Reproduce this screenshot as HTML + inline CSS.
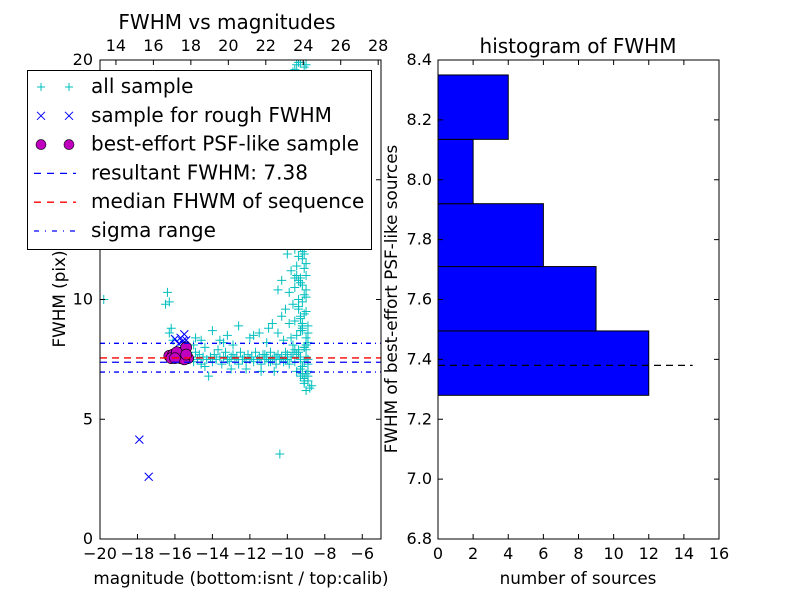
<!DOCTYPE html>
<html><head><meta charset="utf-8"><style>
body{margin:0;background:#fff}
svg{display:block;font-family:"DejaVu Sans","Liberation Sans",sans-serif}
</style></head><body>
<svg id="fig" width="800" height="600" viewBox="0 0 800 600">
<rect width="800" height="600" fill="#fff"/>
<g id="left"></g>
<g id="right"></g>
</svg>
<script>
// ---- Left chart data ----
const allMag = [-15.1,-15.0,-14.9,-14.8,-14.7,-14.6,-14.5,-14.4,-14.3,-14.2,-14.1,-14.0,-13.9,-13.8,-13.7,-13.6,-13.5,-13.4,-13.3,-13.2,-13.1,-13.0,-12.9,-12.8,-12.7,-12.6,-12.5,-12.4,-12.3,-12.2,-12.1,-12.0,-11.9,-11.8,-11.7,-11.6,-11.5,-11.4,-11.3,-11.2,-11.1,-11.0,-10.9,-10.8,-10.7,-10.6,-10.5,-10.4,-10.3,-10.2,-10.1,-10.0,
-14.6,-14.0,-13.4,-12.9,-12.0,-11.5,-11.1,-10.8,-10.5,-10.3,-11.0,-13.2,-14.9,-15.0,-13.0,-12.2,-11.4,-10.7,-14.4,
-9.5,-9.3,-9.1,-9.6,-9.4,-9.0,-9.7,-9.3,-9.5,-9.2,-9.6,-9.1,-9.4,-9.7,-9.0,-9.3,-9.5,-9.8,-9.1,-9.4,-9.6,-10.0,-9.2,-9.5,-9.8,-9.0,-10.3,-9.3,-9.6,-9.9,-10.5,-9.1,-9.4,-9.7,-10.1,-9.0,-9.3,-9.6,-9.9,-8.9,-9.2,-9.5,-9.8,-10.2,-8.9,-9.1,-9.4,-9.7,-9.0,-9.3,-8.9,-9.2,-9.5,-9.0,-9.3,-8.9,-9.1,-8.8,-9.0,-8.7,-9.2,-9.3,-9.1,-9.5,-9.0,-9.4,-8.9,-9.6,-9.2,-9.0,
-9.2,-9.0,-9.4,-9.1,-9.3,-9.2,-9.0,-9.4,-9.1,-9.3,-9.2,-9.0,-9.5,-9.1,-9.3,-9.2,-8.9,-9.4,-9.1,-9.0,-9.3,-9.2,-9.5,-9.0,-9.1,-9.4,-9.2,-9.3,-8.9,-9.1,-9.6,-9.0,-9.2,-9.4,-9.1,-9.3,-9.0,-9.2,-8.9,-9.1,-9.8,-10.0,-10.4,-10.6,-10.9,-11.2,-9.7,-9.9,-10.1,-9.6,
-19.8,-16.4,-16.5,-16.3,-16.2,-16.3,-10.4,-16.1,-12.6,-13.6,-11.8];
const allFwhm = [7.6,7.4,7.8,7.5,7.7,7.3,7.6,8.0,7.5,6.8,7.6,7.4,7.7,7.5,7.9,7.6,7.3,7.6,7.8,7.5,7.4,7.6,7.7,7.5,7.6,7.3,7.8,7.5,7.6,7.4,7.7,7.5,7.6,7.4,7.8,7.5,7.6,7.3,7.7,7.5,7.6,7.4,7.8,7.5,7.6,7.3,7.7,7.5,7.6,7.4,7.8,7.5,
8.3,8.7,8.2,8.1,8.4,8.6,8.2,9.0,8.6,9.3,8.8,8.5,8.4,8.1,7.1,7.1,7.0,7.0,7.2,
19.8,19.9,19.7,19.6,19.9,19.8,19.5,18.5,17.8,17.2,16.5,16.0,15.4,14.9,14.5,14.0,13.6,13.2,12.8,12.5,12.1,11.9,11.7,11.4,11.2,11.0,10.8,10.7,10.5,10.3,10.4,10.2,10.0,9.8,9.6,9.5,9.3,9.1,9.0,8.9,8.7,8.5,8.4,8.3,8.2,8.0,7.9,7.8,7.6,7.5,7.3,7.2,7.0,6.9,6.8,6.6,6.5,6.3,6.2,6.4,12.0,13.0,14.2,15.0,11.5,9.6,8.6,10.9,9.0,10.4,
12.3,12.6,11.8,11.3,10.9,10.6,10.1,9.7,9.4,9.2,8.8,8.1,7.7,7.4,7.1,6.9,7.5,7.8,8.0,8.4,8.7,9.9,11.0,12.9,13.4,13.8,7.2,7.6,6.8,6.7,7.4,7.9,8.9,10.8,11.9,12.2,13.1,14.3,7.0,6.6,7.6,7.7,7.5,7.6,7.4,7.7,8.1,7.3,7.5,7.9,
10.0,10.3,9.8,9.9,8.8,8.6,3.55,8.3,8.9,8.3,8.5];
const roughMag = [-17.9,-17.4,-16.0,-15.7,-15.5,-15.6,-15.4,-15.8,-15.5];
const roughFwhm = [4.15,2.6,8.35,8.4,8.55,8.25,8.3,8.15,8.1];
const bestMag = [-16.3,-16.1,-15.9,-15.8,-15.6,-15.5,-15.4,-15.3,-15.7,-16.2,-15.5,-15.9,-16.0,-15.4];
const bestFwhm = [7.65,7.7,7.6,7.75,7.8,7.65,8.0,7.55,7.55,7.55,7.5,7.8,7.55,7.7];
const resultFwhm = 7.38;
const medianFwhm = 7.56;
const sigmaRange = [6.97, 8.17];
const xTicks = [-20,-18,-16,-14,-12,-10,-8,-6];
const yTicks = [0,5,10,15,20];
const topTicks = [14,16,18,20,22,24,26,28];
const calibOffset = 33.15;
// ---- Right chart data ----
const binEdges = [7.28,7.495,7.71,7.92,8.135,8.35];
const binCounts = [12,9,6,2,4];
const histXTicks = [0,2,4,6,8,10,12,14,16];
const histYTicks = [6.8,7.0,7.2,7.4,7.6,7.8,8.0,8.2,8.4];

const NS='http://www.w3.org/2000/svg';
function mk(parent,tag,attrs,text){const e=document.createElementNS(NS,tag);for(const k in attrs)e.setAttribute(k,attrs[k]);if(text!==undefined)e.textContent=text;parent.appendChild(e);return e;}

// ---- Left plot ----
const L=document.getElementById('left');
const lx0=100,lx1=381,ly0=60,ly1=539;
const X=v=>lx0+(v+20)/15*(lx1-lx0);
const Y=v=>ly1-v/20*(ly1-ly0);
const clipL=mk(L,'clipPath',{id:'clipL'});mk(clipL,'rect',{x:lx0,y:ly0,width:lx1-lx0,height:ly1-ly0});
const pts=mk(L,'g',{'clip-path':'url(#clipL)'});
for(let i=0;i<allMag.length;i++){
  const x=X(allMag[i]),y=Y(allFwhm[i]);
  const p=mk(pts,'path',{d:`M${x-4.5},${y}H${x+4.5}M${x},${y-4.5}V${y+4.5}`,stroke:'#00bfbf','stroke-width':1,fill:'none'});
  
  
}
for(let i=0;i<roughMag.length;i++){
  const x=X(roughMag[i]),y=Y(roughFwhm[i]);
  const p=mk(pts,'path',{d:`M${x-4},${y-4}L${x+4},${y+4}M${x-4},${y+4}L${x+4},${y-4}`,stroke:'#0000ff','stroke-width':1,fill:'none'});
  
  
}
for(let i=0;i<bestMag.length;i++){
  const c=mk(pts,'circle',{cx:X(bestMag[i]),cy:Y(bestFwhm[i]),r:5.5,fill:'#bf00bf',stroke:'#000','stroke-width':0.6});
  
  
}
function hline(g,v,color,dash,name){const l=mk(g,'line',{x1:lx0,x2:lx1,y1:Y(v),y2:Y(v),stroke:color,'stroke-width':1.3,'stroke-dasharray':dash});}
hline(pts,resultFwhm,'#0000ff','7,5','resultant-fwhm-line');
hline(pts,medianFwhm,'#ff0000','7,5','median-fwhm-line');
hline(pts,sigmaRange[0],'#0000ff','5,4,1,4','sigma-low-line');
hline(pts,sigmaRange[1],'#0000ff','5,4,1,4','sigma-high-line');
mk(L,'rect',{x:lx0,y:ly0,width:lx1-lx0,height:ly1-ly0,fill:'none',stroke:'#000','stroke-width':1});
xTicks.forEach(t=>{const x=X(t);mk(L,'path',{d:`M${x},${ly1}v-5`,stroke:'#000'});
 const tx=mk(L,'text',{x:x,y:559,'font-size':16,'text-anchor':'middle'},(t<0?'\u2212'+(-t):t));});
yTicks.forEach(t=>{const y=Y(t);mk(L,'path',{d:`M${lx0},${y}h5M${lx1},${y}h-5`,stroke:'#000'});
 const tx=mk(L,'text',{x:93,y:y+5,'font-size':16,'text-anchor':'end'},t);});
topTicks.forEach(t=>{const x=X(t-calibOffset);mk(L,'path',{d:`M${x},${ly0}v5`,stroke:'#000'});
 const tx=mk(L,'text',{x:x,y:51,'font-size':16,'text-anchor':'middle'},t);});
</script>
<script>
(function(){
const L=document.getElementById('left');
const NS='http://www.w3.org/2000/svg';
function mk(p,t,a,x){const e=document.createElementNS(NS,t);for(const k in a)e.setAttribute(k,a[k]);if(x!==undefined)e.textContent=x;p.appendChild(e);return e;}
let e;
e=mk(L,'text',{x:227,y:29,'font-size':20,'text-anchor':'middle'},'FWHM vs magnitudes');
e=mk(L,'text',{x:241,y:584,'font-size':16.8,'text-anchor':'middle'},'magnitude (bottom:isnt / top:calib)');
e=mk(L,'text',{x:0,y:0,'font-size':16.8,'text-anchor':'middle',transform:'translate(65,299) rotate(-90)'},'FWHM (pix)');
const lg=mk(L,'g',{});
mk(lg,'rect',{x:27.5,y:70.5,width:344,height:179,fill:'#fff',stroke:'#000'});
const labels=['all sample','sample for rough FWHM','best-effort PSF-like sample','resultant FWHM: 7.38','median FHWM of sequence','sigma range'];
labels.forEach((s,i)=>{const y=87+i*28.8;
 if(i==0)[41,69].forEach(x=>mk(lg,'path',{d:`M${x-4},${y}H${x+4}M${x},${y-4}V${y+4}`,stroke:'#00bfbf'}));
 if(i==1)[41,69].forEach(x=>mk(lg,'path',{d:`M${x-4},${y-4}L${x+4},${y+4}M${x-4},${y+4}L${x+4},${y-4}`,stroke:'#0000ff'}));
 if(i==2)[41,69].forEach(x=>mk(lg,'circle',{cx:x,cy:y,r:5,fill:'#bf00bf',stroke:'#000','stroke-width':0.6}));
 if(i==3)mk(lg,'line',{x1:34,x2:76,y1:y,y2:y,stroke:'#0000ff','stroke-width':1.3,'stroke-dasharray':'7,6'});
 if(i==4)mk(lg,'line',{x1:34,x2:76,y1:y,y2:y,stroke:'#ff0000','stroke-width':1.3,'stroke-dasharray':'7,6'});
 if(i==5)mk(lg,'line',{x1:34,x2:76,y1:y,y2:y,stroke:'#0000ff','stroke-width':1.3,'stroke-dasharray':'5,6,1,6'});
 const t=mk(lg,'text',{x:91,y:y+6,'font-size':20},s);
});
})();
(function(){
const R=document.getElementById('right');
const NS='http://www.w3.org/2000/svg';
function mk(p,t,a,x){const e=document.createElementNS(NS,t);for(const k in a)e.setAttribute(k,a[k]);if(x!==undefined)e.textContent=x;p.appendChild(e);return e;}
const rx0=438,rx1=719,ry0=60,ry1=539;
const X=v=>rx0+v/16*(rx1-rx0);
const Y=v=>ry1-(v-6.8)/1.6*(ry1-ry0);
for(let i=0;i<binCounts.length;i++){
 const y1=Y(binEdges[i]),y2=Y(binEdges[i+1]);
 const b=mk(R,'rect',{x:X(0),y:y2,width:X(binCounts[i])-X(0),height:y1-y2,fill:'#0000ff',stroke:'#000','stroke-width':1});
 
 
}
const rl=mk(R,'line',{x1:X(0),x2:X(14.5),y1:Y(resultFwhm),y2:Y(resultFwhm),stroke:'#000','stroke-width':1.3,'stroke-dasharray':'7,5'});


mk(R,'rect',{x:rx0,y:ry0,width:rx1-rx0,height:ry1-ry0,fill:'none',stroke:'#000'});
histXTicks.forEach(t=>{const x=X(t);mk(R,'path',{d:`M${x},${ry1}v-5M${x},${ry0}v5`,stroke:'#000'});
 const tx=mk(R,'text',{x:x,y:559,'font-size':16,'text-anchor':'middle'},t);});
histYTicks.forEach(t=>{const y=Y(t);mk(R,'path',{d:`M${rx0},${y}h5M${rx1},${y}h-5`,stroke:'#000'});
 const tx=mk(R,'text',{x:432,y:y+5,'font-size':16,'text-anchor':'end'},t.toFixed(1));});
let e;
e=mk(R,'text',{x:578,y:53,'font-size':20,'text-anchor':'middle'},'histogram of FWHM');
e=mk(R,'text',{x:578,y:584,'font-size':16.8,'text-anchor':'middle'},'number of sources');
e=mk(R,'text',{x:0,y:0,'font-size':16.8,'text-anchor':'middle',transform:'translate(397,299) rotate(-90)'},'FWHM of best-effort PSF-like sources');
})();
</script>
</body></html>
